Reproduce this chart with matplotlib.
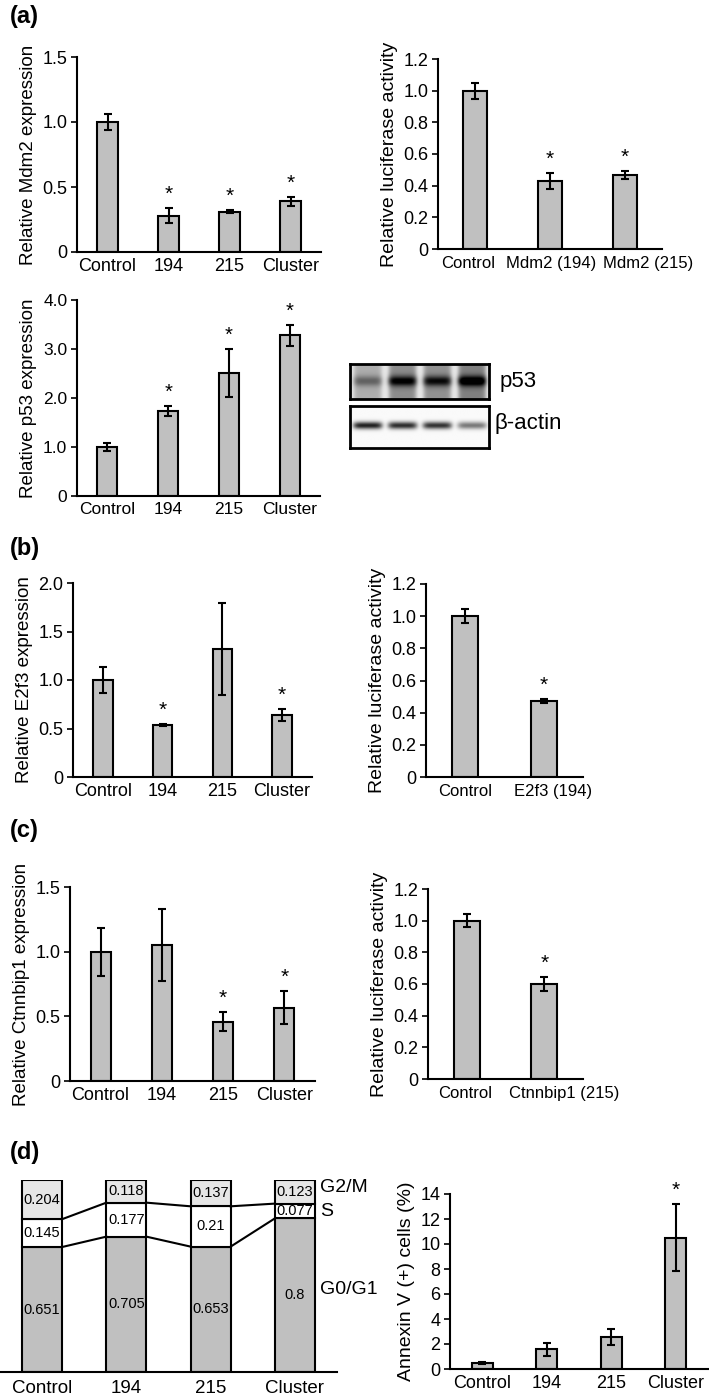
import numpy as np
import matplotlib
matplotlib.use('Agg')
import matplotlib.pyplot as plt

plt.rcParams['font.family'] = ['Liberation Sans', 'DejaVu Sans']

W, H = 709, 1399
BAR = '#c0c0c0'

# ---- data ----
mdm2_cats = ['Control', '194', '215', 'Cluster']
mdm2_vals = [1.0, 0.28, 0.31, 0.39]
mdm2_errs = [0.06, 0.06, 0.01, 0.035]
mdm2_star = [False, True, True, True]

luc_mdm2_cats = ['Control', 'Mdm2 (194)', 'Mdm2 (215)']
luc_mdm2_vals = [1.0, 0.43, 0.47]
luc_mdm2_errs = [0.05, 0.05, 0.025]
luc_mdm2_star = [False, True, True]

p53_cats = ['Control', '194', '215', 'Cluster']
p53_vals = [1.0, 1.73, 2.51, 3.28]
p53_errs = [0.08, 0.1, 0.49, 0.22]
p53_star = [False, True, True, True]

# western blot band intensities (per lane)
blot_p53 = [0.3, 0.6, 0.55, 0.7]
blot_p53_bg = [0.22, 0.35, 0.33, 0.4]
blot_actin = [0.85, 0.8, 0.78, 0.5]

e2f3_cats = ['Control', '194', '215', 'Cluster']
e2f3_vals = [1.0, 0.54, 1.32, 0.64]
e2f3_errs = [0.13, 0.01, 0.47, 0.06]
e2f3_star = [False, True, False, True]

luc_e2f3_cats = ['Control', 'E2f3 (194)']
luc_e2f3_vals = [1.0, 0.475]
luc_e2f3_errs = [0.045, 0.012]
luc_e2f3_star = [False, True]

ctn_cats = ['Control', '194', '215', 'Cluster']
ctn_vals = [1.0, 1.05, 0.46, 0.567]
ctn_errs = [0.185, 0.28, 0.075, 0.13]
ctn_star = [False, False, True, True]

luc_ctn_cats = ['Control', 'Ctnnbip1 (215)']
luc_ctn_vals = [1.0, 0.60]
luc_ctn_errs = [0.04, 0.045]
luc_ctn_star = [False, True]

cc_cats = ['Control', '194', '215', 'Cluster']
g0g1 = [0.651, 0.705, 0.653, 0.8]
s_ph = [0.145, 0.177, 0.21, 0.077]
g2m = [0.204, 0.118, 0.137, 0.123]

ann_cats = ['Control', '194', '215', 'Cluster']
ann_vals = [0.5, 1.57, 2.59, 10.5]
ann_errs = [0.08, 0.5, 0.64, 2.68]
ann_star = [False, False, False, True]


def box(l, t, r, b):
    return [l / W, (H - b) / H, (r - l) / W, (b - t) / H]


def bar_panel(ax, cats, vals, errs, stars, ymax, yticks, ylabels, ylabel,
              fs=13, xfs=None, yfs=None, width=0.33, star_off=3, shifts=None):
    xfs = xfs or fs
    yfs = yfs or fs
    x = np.arange(len(cats))
    ax.bar(x, vals, width=width, color=BAR, edgecolor='black', linewidth=1.5, zorder=2)
    ax.errorbar(x, vals, yerr=errs, fmt='none', ecolor='black', elinewidth=1.5,
                capsize=3, capthick=1.5, zorder=3)
    for xi, v, e, s in zip(x, vals, errs, stars):
        if s:
            ax.annotate('*', (xi, v + e), xytext=(0, star_off), textcoords='offset points',
                        ha='center', va='bottom', fontsize=fs + 2)
    ax.set_xlim(-0.5, len(cats) - 0.5)
    ax.set_ylim(0, ymax)
    ax.set_xticks(x)
    if shifts is None:
        ax.set_xticklabels(cats, fontsize=xfs)
    else:
        # long labels sit off-centre, as in the original
        ax.set_xticklabels([])
        for xi, c, dx in zip(x, cats, shifts):
            ax.annotate(c, (xi, 0), xycoords=('data', 'axes fraction'),
                        xytext=(dx, -5), textcoords='offset points',
                        ha='center', va='top', fontsize=xfs)
    ax.set_yticks(yticks)
    ax.set_yticklabels(ylabels, fontsize=fs)
    ax.tick_params(axis='x', length=0, pad=4)
    ax.tick_params(axis='y', length=4, width=1.2, pad=3)
    ax.set_ylabel(ylabel, fontsize=yfs)
    for sp in ['top', 'right']:
        ax.spines[sp].set_visible(False)
    for sp in ['left', 'bottom']:
        ax.spines[sp].set_linewidth(1.5)


fig = plt.figure(figsize=(W / 100, H / 100), dpi=100)

# (a)
ax = fig.add_axes(box(77, 57, 321, 252))
bar_panel(ax, mdm2_cats, mdm2_vals, mdm2_errs, mdm2_star, 1.5,
          [0, 0.5, 1.0, 1.5], ['0', '0.5', '1.0', '1.5'], 'Relative Mdm2 expression',
          fs=13, yfs=13.5)

ax = fig.add_axes(box(438, 59, 662, 249))
bar_panel(ax, luc_mdm2_cats, luc_mdm2_vals, luc_mdm2_errs, luc_mdm2_star, 1.2,
          [0, 0.2, 0.4, 0.6, 0.8, 1.0, 1.2], ['0', '0.2', '0.4', '0.6', '0.8', '1.0', '1.2'],
          'Relative luciferase activity', fs=13, xfs=12, yfs=14, width=0.32,
          shifts=[-5, 1, 17])

ax = fig.add_axes(box(77, 300, 320, 496))
bar_panel(ax, p53_cats, p53_vals, p53_errs, p53_star, 4.0,
          [0, 1, 2, 3, 4], ['0', '1.0', '2.0', '3.0', '4.0'], 'Relative p53 expression',
          fs=12.5, yfs=13.5)


# western blot
def blot(ax, levels, lane_bg, cy, sig):
    ny, nx = 40, 140
    yy, xx = np.mgrid[0:ny, 0:nx]
    img = np.full((ny, nx), 0.1 if lane_bg else 0.02)
    lane_w = nx / len(levels)
    for i, lv in enumerate(levels):
        cx = (i + 0.5) * lane_w
        prof_x = np.exp(-((xx - cx) / (lane_w * 0.42)) ** 6)
        prof_y = np.exp(-((yy - cy) / sig) ** 2)
        img += lv * prof_x * prof_y
        if lane_bg:
            img += lane_bg[i] * np.exp(-((xx - cx) / (lane_w * 0.4)) ** 8)
    ax.imshow(np.clip(img, 0, 1), cmap='gray_r', vmin=0, vmax=1, aspect='auto',
              interpolation='bilinear')
    ax.set_xticks([])
    ax.set_yticks([])
    for sp in ax.spines.values():
        sp.set_linewidth(2)


bax1 = fig.add_axes(box(350, 364, 489, 399))
blot(bax1, blot_p53, blot_p53_bg, 19, 6)
bax2 = fig.add_axes(box(350, 406, 489, 448))
blot(bax2, blot_actin, None, 18, 3.5)
fig.text(500 / W, 1 - 381 / H, 'p53', fontsize=16, va='center', ha='left')
fig.text(495 / W, 1 - 424 / H, 'β-actin', fontsize=16, va='center', ha='left')

# (b)
ax = fig.add_axes(box(73, 583, 312, 777))
bar_panel(ax, e2f3_cats, e2f3_vals, e2f3_errs, e2f3_star, 2.0,
          [0, 0.5, 1.0, 1.5, 2.0], ['0', '0.5', '1.0', '1.5', '2.0'], 'Relative E2f3 expression',
          fs=13, yfs=13.5)

ax = fig.add_axes(box(426, 584, 583, 777))
bar_panel(ax, luc_e2f3_cats, luc_e2f3_vals, luc_e2f3_errs, luc_e2f3_star, 1.2,
          [0, 0.2, 0.4, 0.6, 0.8, 1.0, 1.2], ['0', '0.2', '0.4', '0.6', '0.8', '1.0', '1.2'],
          'Relative luciferase activity', fs=13, xfs=12, yfs=14, width=0.33,
          shifts=[0, 7])

# (c)
ax = fig.add_axes(box(70, 887, 315, 1081))
bar_panel(ax, ctn_cats, ctn_vals, ctn_errs, ctn_star, 1.5,
          [0, 0.5, 1.0, 1.5], ['0', '0.5', '1.0', '1.5'], 'Relative Ctnnbip1 expression',
          fs=13, yfs=13.5)

ax = fig.add_axes(box(428, 889, 583, 1079))
bar_panel(ax, luc_ctn_cats, luc_ctn_vals, luc_ctn_errs, luc_ctn_star, 1.2,
          [0, 0.2, 0.4, 0.6, 0.8, 1.0, 1.2], ['0', '0.2', '0.4', '0.6', '0.8', '1.0', '1.2'],
          'Relative luciferase activity', fs=13, xfs=12, yfs=14, width=0.33,
          shifts=[-1, 14])

# (d) cell cycle stacked bars
ax = fig.add_axes(box(0, 1180, 337, 1372))
x = np.arange(len(cc_cats))
bw = 0.475
b1 = np.array(g0g1)
b2 = b1 + np.array(s_ph)
ax.bar(x, g0g1, width=bw, color=BAR, edgecolor='black', linewidth=1.5)
ax.bar(x, s_ph, bottom=b1, width=bw, color='white', edgecolor='black', linewidth=1.5)
ax.bar(x, g2m, bottom=b2, width=bw, color='#e6e6e6', edgecolor='black', linewidth=1.5)
for lev in (b1, b2):
    for i in range(len(x) - 1):
        ax.plot([x[i] + bw / 2, x[i + 1] - bw / 2], [lev[i], lev[i + 1]], color='black', lw=1.5)
for i in range(len(x)):
    ax.text(x[i], g0g1[i] / 2, f'{g0g1[i]:g}', ha='center', va='center', fontsize=10.5)
    ax.text(x[i], b1[i] + s_ph[i] / 2, f'{s_ph[i]:g}', ha='center', va='center', fontsize=10.5)
    ax.text(x[i], b2[i] + g2m[i] / 2, f'{g2m[i]:g}', ha='center', va='center', fontsize=10.5)
ax.set_xlim(-0.5, len(x) - 0.5)
ax.set_ylim(0, 1.0)
ax.set_xticks(x)
ax.set_xticklabels(cc_cats, fontsize=13.5)
ax.set_yticks([])
ax.tick_params(axis='x', length=0, pad=6)
for sp in ['top', 'right', 'left']:
    ax.spines[sp].set_visible(False)
ax.spines['bottom'].set_linewidth(1.5)
ax.text(3.3, b2[-1] + g2m[-1] / 2 + 0.02, 'G2/M', fontsize=14, va='center', ha='left')
ax.text(3.3, b1[-1] + s_ph[-1] / 2, 'S', fontsize=14, va='center', ha='left')
ax.text(3.3, 0.43, 'G0/G1', fontsize=14, va='center', ha='left')

ax = fig.add_axes(box(450, 1194, 708, 1369))
bar_panel(ax, ann_cats, ann_vals, ann_errs, ann_star, 14,
          list(range(0, 15, 2)), [str(v) for v in range(0, 15, 2)],
          'Annexin V (+) cells (%)', fs=13, yfs=14, width=0.33)

# panel letters
for lab, yy in [('(a)', 16), ('(b)', 548), ('(c)', 830), ('(d)', 1153)]:
    fig.text(10 / W, 1 - yy / H, lab, fontsize=17, fontweight='bold', va='center', ha='left')

fig.savefig('out.png', dpi=100)
